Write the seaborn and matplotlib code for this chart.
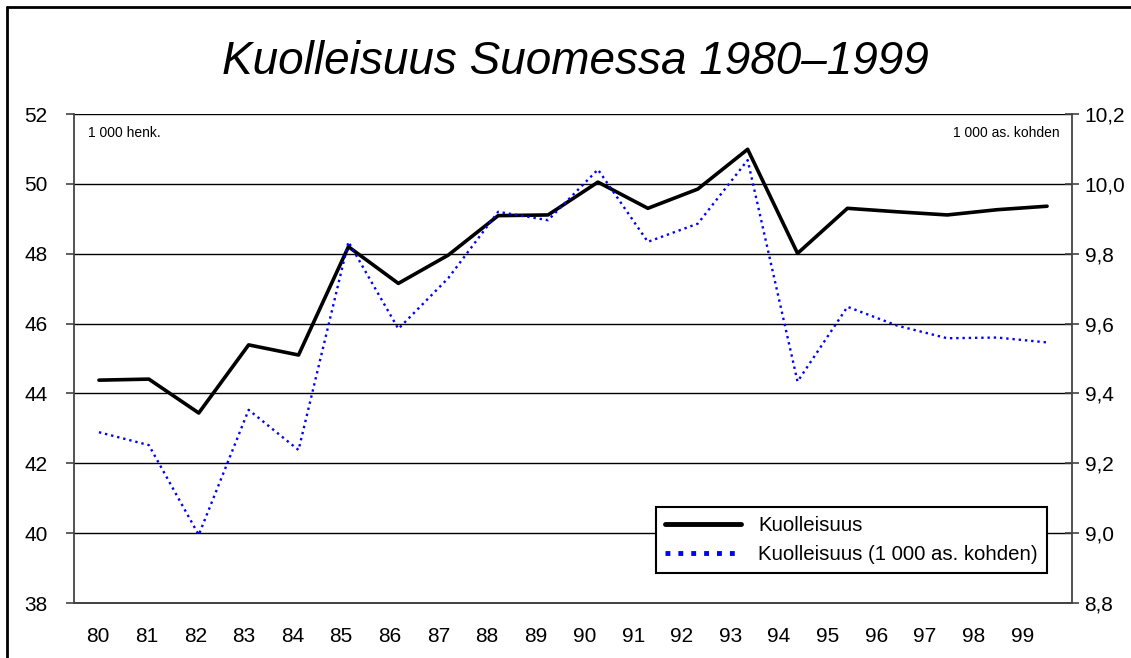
import numpy as np
import pandas as pd
import matplotlib
matplotlib.use('Agg')
import matplotlib.pyplot as plt
from matplotlib.lines import Line2D
from matplotlib.ticker import FuncFormatter
import seaborn as sns

# Data
years = ['80', '81', '82', '83', '84', '85', '86', '87', '88', '89',
         '90', '91', '92', '93', '94', '95', '96', '97', '98', '99']
deaths_1000 = [44.38, 44.41, 43.44, 45.39, 45.10, 48.20, 47.15, 47.96, 49.09, 49.11,
               50.05, 49.30, 49.85, 50.99, 48.01, 49.30, 49.20, 49.11, 49.26, 49.36]
deaths_per_1000 = [9.289, 9.252, 8.995, 9.353, 9.238, 9.834, 9.585, 9.73, 9.92, 9.896,
                   10.041, 9.834, 9.886, 10.068, 9.434, 9.648, 9.594, 9.558, 9.560, 9.546]

df = pd.DataFrame({'i': np.arange(len(years)), 'vuosi': years,
                   'kuol': deaths_1000, 'kuol_rel': deaths_per_1000})

sns.set_style('white')
plt.rcParams['font.family'] = ['Liberation Sans', 'DejaVu Sans']
plt.rcParams['text.color'] = 'black'
plt.rcParams['xtick.color'] = 'black'
plt.rcParams['ytick.color'] = 'black'
plt.rcParams['axes.labelcolor'] = 'black'

fig = plt.figure(figsize=(11.31, 6.58), dpi=100)
ax = fig.add_axes([74 / 1131, 1 - 603 / 658, (1072 - 74) / 1131, (603 - 114) / 658])
ax2 = ax.twinx()

sns.lineplot(data=df, x='i', y='kuol', ax=ax, color='black', linewidth=2.6,
             label='Kuolleisuus', legend=False)
sns.lineplot(data=df, x='i', y='kuol_rel', ax=ax2, color='#0000ff', linewidth=1.7,
             linestyle=':', label='Kuolleisuus (1 000 as. kohden)', legend=False)

ax.set_xlim(-0.5, 19.5)
ax.set_ylim(38, 52)
ax2.set_ylim(8.8, 10.2)
ax.set_yticks(np.arange(38, 53, 2))
ax2.set_yticks(np.arange(8.8, 10.21, 0.2))
ax2.yaxis.set_major_formatter(FuncFormatter(lambda v, p: f'{v:.1f}'.replace('.', ',')))

# labels of the x axis sit slightly off the data points like in the original
ax.set_xticks(np.arange(len(years)) * 0.975 - 0.02)
ax.set_xticklabels(years)
ax.set_xlabel('')
ax.set_ylabel('')
ax2.set_ylabel('')

ax.grid(axis='y', color='black', linewidth=1)
ax.grid(axis='x', visible=False)
ax2.grid(False)

for a in (ax, ax2):
    for s in a.spines.values():
        s.set_color('#444444')
        s.set_linewidth(1.3)
    a.spines['top'].set_visible(False)
ax.spines['right'].set_visible(False)
ax2.spines['left'].set_visible(False)

ax.tick_params(axis='y', direction='out', length=6, width=1.2, color='#444444',
               labelsize=15, pad=13, left=True)
ax.tick_params(axis='x', length=0, labelsize=15, pad=17)
ax2.tick_params(axis='y', direction='inout', length=10, width=1.2, color='#444444',
                labelsize=15, pad=4, right=True)

ax.text(0.014, 0.975, '1 000 henk.', transform=ax.transAxes, fontsize=10,
        ha='left', va='top')
ax2.text(0.988, 0.975, '1 000 as. kohden', transform=ax.transAxes, fontsize=10,
         ha='right', va='top')

h1, l1 = ax.get_legend_handles_labels()
h2, l2 = ax2.get_legend_handles_labels()
leg = ax2.legend(h1 + h2, l1 + l2, loc='lower right', bbox_to_anchor=(0.975, 0.061),
                 fontsize=14.7, frameon=True, fancybox=False, framealpha=1,
                 edgecolor='black', handlelength=3.7, handletextpad=0.85,
                 borderpad=0.45, labelspacing=0.5, borderaxespad=0)
leg.get_frame().set_linewidth(1.5)
for ln in leg.get_lines():
    ln.set_linewidth(3.5)

fig.text(0.509, 1 - 62 / 658, 'Kuolleisuus Suomessa 1980–1999', fontsize=33,
         style='italic', ha='center', va='center')

# outer chart frame (cut off at right and bottom like the reference)
fig.add_artist(Line2D([7 / 1131, 7 / 1131], [0, 1 - 7 / 658], color='black', linewidth=2))
fig.add_artist(Line2D([7 / 1131, 1], [1 - 7 / 658, 1 - 7 / 658], color='black', linewidth=2))

plt.savefig('out.png', dpi=100)
plt.close()
